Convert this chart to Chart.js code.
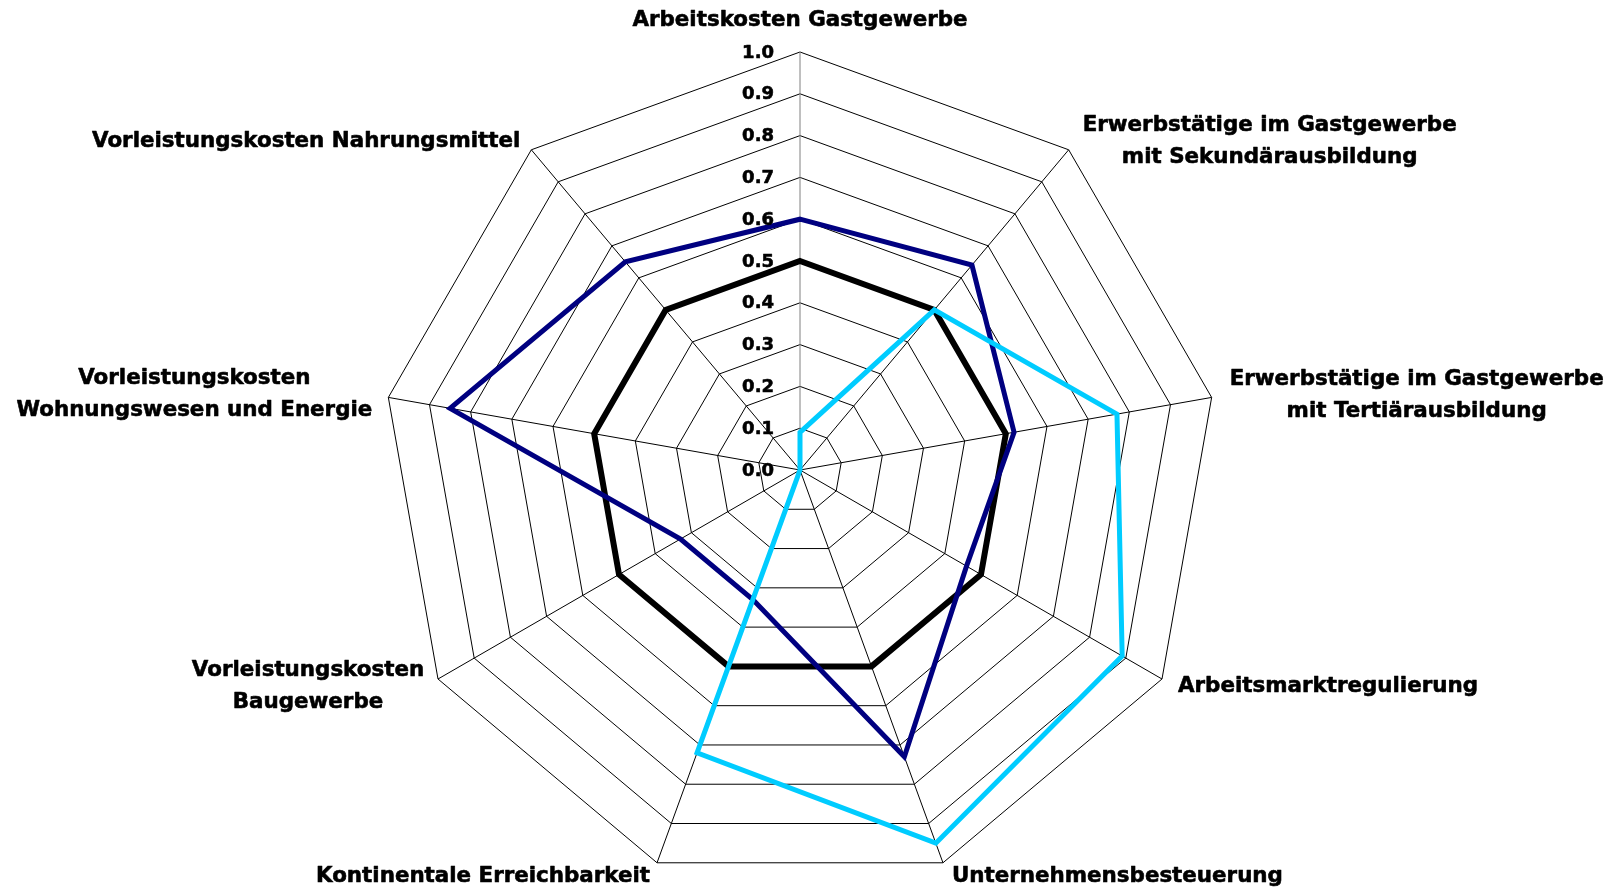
<!DOCTYPE html>
<html lang="de">
<head>
<meta charset="utf-8">
<title>Standortfaktoren Gastgewerbe</title>
<script src="https://cdn.jsdelivr.net/npm/chart.js@4.4.1/dist/chart.umd.min.js"></script>
<style>
  html, body { margin: 0; padding: 0; background: #fff; }
  canvas { display: block; }
</style>
</head>
<body>
<canvas id="radar" width="1614" height="890"></canvas>
<script>
const categories = [
  ['Arbeitskosten Gastgewerbe'],
  ['Erwerbstätige im Gastgewerbe', 'mit Sekundärausbildung'],
  ['Erwerbstätige im Gastgewerbe', 'mit Tertiärausbildung'],
  ['Arbeitsmarktregulierung'],
  ['Unternehmensbesteuerung'],
  ['Kontinentale Erreichbarkeit'],
  ['Vorleistungskosten', 'Baugewerbe'],
  ['Vorleistungskosten', 'Wohnungswesen und Energie'],
  ['Vorleistungskosten Nahrungsmittel']
];

const baseValues = [0.5, 0.5, 0.5, 0.5, 0.5, 0.5, 0.5, 0.5, 0.5];
const navyValues = [0.60, 0.64, 0.52, 0.46, 0.73, 0.33, 0.33, 0.85, 0.65];
const cyanValues = [0.09, 0.50, 0.77, 0.89, 0.95, 0.72, 0, 0, 0];

const tickLabels = ['0.0', '0.1', '0.2', '0.3', '0.4', '0.5', '0.6', '0.7', '0.8', '0.9', '1.0'];

// where each category name sits relative to the outer corner of its spoke
const labelLayout = [
  { align: 'center', dx: 0, dy: -32 },
  { align: 'center', dx: 201, dy: -24 },
  { align: 'center', dx: 205, dy: -18 },
  { align: 'left', dx: 16, dy: 7 },
  { align: 'left', dx: 9, dy: 14 },
  { align: 'right', dx: -7, dy: 14 },
  { align: 'center', dx: -130, dy: -9 },
  { align: 'center', dx: -194, dy: -19 },
  { align: 'right', dx: -11, dy: -8 }
];
const lineGap = 32;

// fill plus a thin stroke so the bold face reads a little heavier
function boldText(ctx, text, x, y) {
  ctx.fillText(text, x, y);
  ctx.strokeText(text, x, y);
}

const radarText = {
  id: 'radarText',
  afterDatasetsDraw(chart) {
    const scale = chart.scales.r;
    const ctx = chart.ctx;
    ctx.save();
    ctx.fillStyle = '#000';
    ctx.strokeStyle = '#000';
    ctx.lineWidth = 0.6;
    ctx.lineJoin = 'round';
    ctx.textBaseline = 'middle';

    // value ticks down the left side of the top spoke
    ctx.font = 'bold 18px "DejaVu Sans"';
    ctx.textAlign = 'right';
    tickLabels.forEach(t => {
      const p = scale.getPointPositionForValue(0, parseFloat(t));
      boldText(ctx, t, p.x - 26, p.y + 1);
    });

    // category names around the outside
    ctx.font = 'bold 21.4px "DejaVu Sans"';
    categories.forEach((lines, i) => {
      const v = scale.getPointPosition(i, scale.drawingArea);
      const l = labelLayout[i];
      ctx.textAlign = l.align;
      lines.forEach((line, j) => {
        boldText(ctx, line, v.x + l.dx, v.y + l.dy + j * lineGap);
      });
    });
    ctx.restore();
  }
};

const lineSet = (data, color, width) => ({
  data: data,
  borderColor: color,
  borderWidth: width,
  fill: false,
  pointRadius: 0,
  pointHoverRadius: 0,
  tension: 0
});

new Chart(document.getElementById('radar'), {
  type: 'radar',
  data: {
    labels: categories,
    datasets: [
      lineSet(cyanValues, '#00ccff', 5),
      lineSet(navyValues, '#000080', 5),
      lineSet(baseValues, '#000000', 6)
    ]
  },
  options: {
    responsive: false,
    animation: false,
    devicePixelRatio: 1,
    layout: { padding: { top: 52, bottom: 2, left: 0, right: 14 } },
    plugins: {
      legend: { display: false },
      tooltip: { enabled: false }
    },
    scales: {
      r: {
        min: 0,
        max: 1,
        startAngle: 0,
        ticks: { stepSize: 0.1, display: false },
        pointLabels: { display: false },
        grid: { color: '#000', lineWidth: 1, circular: false },
        angleLines: {
          color: ctx => ctx.index === 0 ? '#808080' : '#000',
          lineWidth: 1
        }
      }
    }
  },
  plugins: [radarText]
});
</script>
</body>
</html>
